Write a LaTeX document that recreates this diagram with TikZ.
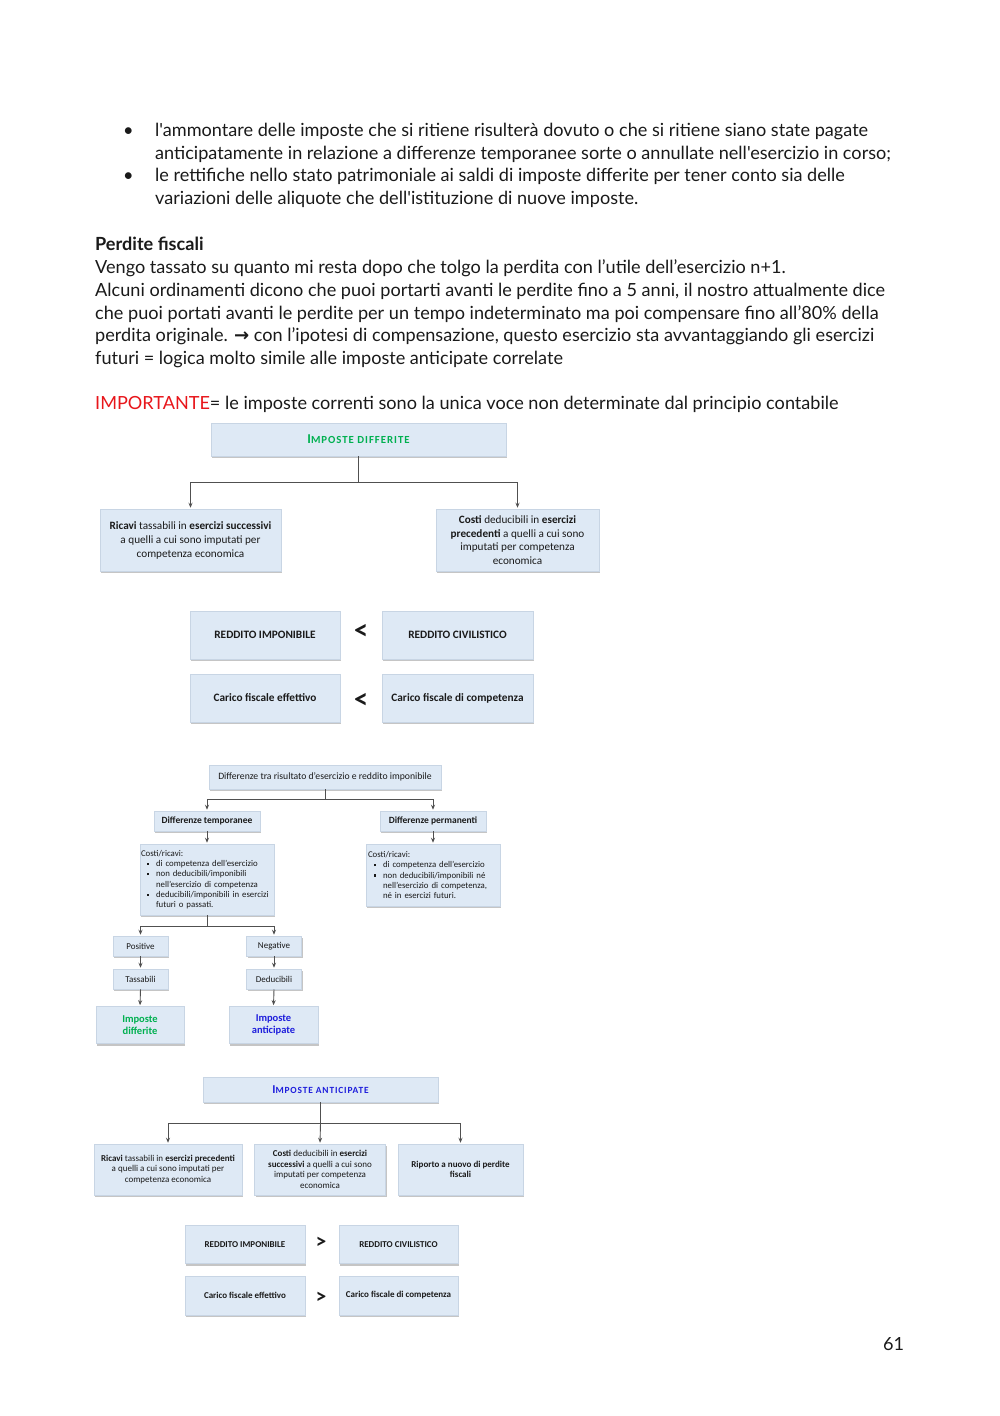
\documentclass[tikz,border=0pt]{standalone}
\usepackage{fontspec}
\setmainfont{Carlito}
\newfontfamily\bodyfont{Lato}
\newfontfamily\symfont{DejaVu Sans}
\newfontfamily\capsfont[LetterSpace=9]{Carlito}
\usetikzlibrary{arrows.meta,shadows}
\definecolor{boxfill}{HTML}{DEE9F5}
\definecolor{boxedge}{HTML}{C8D5E4}
\definecolor{connc}{HTML}{505050}
\definecolor{grn}{HTML}{00B050}
\definecolor{blu}{HTML}{1E1EDC}
\definecolor{redt}{HTML}{E8161B}
\definecolor{txt}{HTML}{1A1A1A}
\newcommand{\sqb}{\makebox[15pt][l]{\hspace{6pt}\raisebox{1.5pt}{\rule{2.2pt}{2.2pt}}}}
\newcommand{\ind}{\hspace*{15pt}}
\begin{document}
\begin{tikzpicture}[x=1pt,y=-1pt,
  box/.style={fill=boxfill, draw=boxedge, line width=0.5pt, inner sep=1pt, text=txt, align=center,
    drop shadow={shadow xshift=1pt, shadow yshift=-2pt, fill=black!45, opacity=0.5}},
  body/.style={font=\bodyfont\fontsize{18.1}{22}\selectfont, inner sep=0pt, anchor=base west, text=txt},
  line/.style={draw=connc, line width=0.9pt},
  arr/.style={line, -{Stealth[length=5pt,width=4pt]}, shorten >=1pt},
  fA/.style={font=\fontsize{11.2}{14}\selectfont},
  fAr/.style={font=\fontsize{11.2}{13.6}\selectfont},
  fB/.style={font=\fontsize{11.3}{13}\selectfont\bfseries},
  fC/.style={font=\fontsize{9.7}{10.3}\selectfont},
  fCs/.style={font=\fontsize{8.8}{10.3}\selectfont},
  fD/.style={font=\fontsize{9}{10.6}\selectfont},
  fE/.style={font=\fontsize{9}{11}\selectfont\bfseries},
  rel/.style={font=\fontsize{28}{28}\selectfont\bfseries, text=txt, inner sep=0pt},
  relS/.style={font=\fontsize{21}{21}\selectfont\bfseries, text=txt, inner sep=0pt},
]
\useasboundingbox (0,0) rectangle (1000,1416);
\fill[white] (0,0) rectangle (1000,1416);

% ---------- body text ----------
\node[body] (b1) at (123,136) {•};
\node[body] (p1) at (155,136) {l'ammontare delle imposte che si ritiene risulterà dovuto o che si ritiene siano state pagate};
\node[body] (p2) at (155,159) {anticipatamente in relazione a differenze temporanee sorte o annullate nell'esercizio in corso;};
\node[body] (b2) at (123,181) {•};
\node[body] (p3) at (155,181) {le rettifiche nello stato patrimoniale ai saldi di imposte differite per tener conto sia delle};
\node[body] (p4) at (155,204) {variazioni delle aliquote che dell'istituzione di nuove imposte.};
\node[body, font=\bodyfont\bfseries\fontsize{18.1}{22}\selectfont] (h1) at (95,250) {Perdite fiscali};
\node[body] (p5) at (95,273) {Vengo tassato su quanto mi resta dopo che tolgo la perdita con l’utile dell’esercizio n+1.};
\node[body] (p6) at (95,296) {Alcuni ordinamenti dicono che puoi portarti avanti le perdite fino a 5 anni, il nostro attualmente dice};
\node[body] (p7) at (95,319) {che puoi portati avanti le perdite per un tempo indeterminato ma poi compensare fino all’80\% della};
\node[body] (p8) at (95,341) {perdita originale. {\symfont\bfseries →} con l’ipotesi di compensazione, questo esercizio sta avvantaggiando gli esercizi};
\node[body] (p9) at (95,364) {futuri = logica molto simile alle imposte anticipate correlate};
\node[body] (p10) at (95,409) {\textcolor{redt}{IMPORTANTE}= le imposte correnti sono la unica voce non determinate dal principio contabile};
\node[body] (pg) at (883,1350) {61};

% ---------- Imposte differite ----------
\node[box, minimum width=295, minimum height=33] (t1) at (358.5,439.5)
  {\capsfont\bfseries\color{grn}{\fontsize{13.5}{13}\selectfont I}{\fontsize{10.8}{13}\selectfont MPOSTE DIFFERITE}};
\node[box, fA, minimum width=181, minimum height=62] (l1) at (190.5,540)
  {\textbf{Ricavi} tassabili in \textbf{esercizi successivi}\\a quelli a cui sono imputati per\\competenza economica};
\node[box, fAr, minimum width=163, minimum height=62] (r1) at (517.5,540)
  {\textbf{Costi} deducibili in \textbf{esercizi}\\\textbf{precedenti} a quelli a cui sono\\imputati per competenza\\economica};
\coordinate (j1) at (358.5,482);
\draw[line] (t1.south) -- (j1);
\draw[arr] (j1) -| (l1.north);
\draw[arr] (j1) -| (r1.north);

% ---------- confronto < ----------
\node[box, fB, minimum width=150, minimum height=48] (a1) at (265,635) {REDDITO IMPONIBILE};
\node[box, fB, minimum width=151, minimum height=48] (a2) at (457.5,635) {REDDITO CIVILISTICO};
\node[rel] (lt1) at (361,632) {<};
\node[box, fB, minimum width=150, minimum height=48] (a3) at (265,698) {Carico fiscale effettivo};
\node[box, fB, minimum width=151, minimum height=48] (a4) at (457.5,698) {Carico fiscale di competenza};
\node[rel] (lt2) at (361,701) {<};

% ---------- Differenze ----------
\node[box, fC, minimum width=232, minimum height=24] (c0) at (325,777) {Differenze tra risultato d’esercizio e reddito imponibile};
\node[box, font=\bfseries\fontsize{9.5}{10.5}\selectfont, minimum width=106, minimum height=20] (c1) at (207,821) {Differenze temporanee};
\node[box, font=\bfseries\fontsize{9.5}{10.5}\selectfont, minimum width=106, minimum height=20] (c2) at (433,821) {Differenze permanenti};
\coordinate (j3) at (325,799);
\draw[line] (c0.south) -- (j3);
\draw[arr] (j3) -| (c1.north);
\draw[arr] (j3) -| (c2.north);
\node[box, fCs, minimum width=134, minimum height=71, text width=132, align=left] (c3) at (207,879.5)
  {Costi/ricavi:\\\sqb di competenza dell’esercizio\\\sqb non deducibili/imponibili\\\ind nell’esercizio di competenza\\\sqb deducibili/imponibili in esercizi\\\ind futuri o passati.};
\node[box, fCs, minimum width=134, minimum height=62, text width=130, align=left] (c4) at (433,875)
  {Costi/ricavi:\\\sqb di competenza dell’esercizio\\\sqb non deducibili/imponibili né\\\ind nell’esercizio di competenza,\\\ind né in esercizi futuri.};
\draw[arr] (c1.south) -- (c3.north);
\draw[arr] (c2.south) -- (c4.north);
\node[box, fD, minimum width=55, minimum height=20] (c5) at (140.5,946) {Positive};
\node[box, fD, minimum width=55, minimum height=20] (c6) at (274,946) {Negative};
\coordinate (j4) at (207,926);
\draw[line] (c3.south) -- (j4);
\draw[arr] (j4) -| (c5.north);
\draw[arr] (j4) -| (c6.north);
\node[box, fD, minimum width=55, minimum height=20] (c7) at (140.5,979) {Tassabili};
\node[box, fD, minimum width=55, minimum height=20] (c8) at (274,979) {Deducibili};
\draw[arr] (c5.south) -- (c7.north);
\draw[arr] (c6.south) -- (c8.north);
\node[box, font=\bfseries\fontsize{10.5}{12.5}\selectfont, minimum width=88, minimum height=37] (c9) at (140,1025) {\color{grn}Imposte\\\color{grn}differite};
\node[box, font=\bfseries\fontsize{10.5}{12.5}\selectfont, minimum width=89, minimum height=37] (c10) at (273.5,1025) {\color{blu}Imposte\\\color{blu}anticipate};
\draw[arr] (c7.south) -- (c9.north);
\draw[arr] (c8.south) -- (c10.north);

% ---------- Imposte anticipate ----------
\node[box, minimum width=235, minimum height=25] (d0) at (320.5,1089.5)
  {\capsfont\bfseries\color{blu}{\fontsize{12}{12}\selectfont I}{\fontsize{9.4}{12}\selectfont MPOSTE ANTICIPATE}};
\node[box, fD, minimum width=148, minimum height=51] (d1) at (168,1169.5)
  {\textbf{Ricavi} tassabili in \textbf{esercizi precedenti}\\a quelli a cui sono imputati per\\competenza economica};
\node[box, fD, minimum width=131, minimum height=51] (d2) at (320,1169.5)
  {\textbf{Costi} deducibili in \textbf{esercizi}\\\textbf{successivi} a quelli a cui sono\\imputati per competenza\\economica};
\node[box, fD, minimum width=125, minimum height=51] (d3) at (460.5,1169.5)
  {\textbf{Riporto a nuovo di perdite}\\\textbf{fiscali}};
\coordinate (j5) at (320.5,1123);
\draw[line] (d0.south) -- (j5);
\draw[arr] (j5) -| (d1.north);
\draw[arr] (j5) -- (d2.north);
\draw[arr] (j5) -| (d3.north);

% ---------- confronto > ----------
\node[box, fE, minimum width=120, minimum height=38] (e1) at (245,1244.5) {REDDITO IMPONIBILE};
\node[box, fE, minimum width=119, minimum height=38] (e2) at (398.5,1244.5) {REDDITO CIVILISTICO};
\node[relS] (gt1) at (321,1243) {>};
\node[box, fE, minimum width=120, minimum height=39] (e3) at (245,1295.5) {Carico fiscale effettivo};
\node[box, fE, minimum width=119, minimum height=39] (e4) at (398.5,1295.5) {Carico fiscale di competenza};
\node[relS] (gt2) at (321,1298) {>};
\end{tikzpicture}
\end{document}
